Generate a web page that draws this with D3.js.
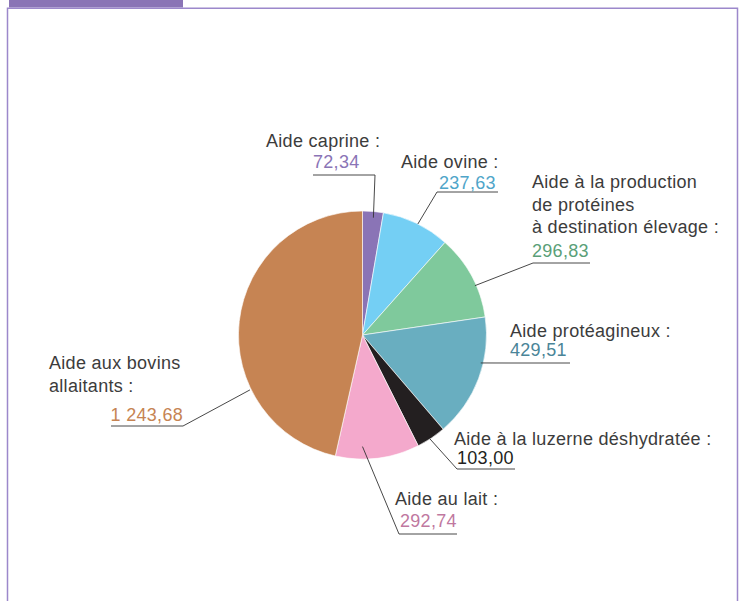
<!DOCTYPE html>
<html>
<head>
<meta charset="utf-8">
<script src="https://cdn.jsdelivr.net/npm/d3@7"></script>
<style>
  body { margin: 0; background: #fff; }
  svg text { font-family: "Liberation Sans", Arial, sans-serif; font-size: 18px; letter-spacing: 0.3px; }
</style>
</head>
<body>
<div id="chart"></div>
<script>
// data
const categories = ["Aide caprine", "Aide ovine", "Aide à la production de protéines à destination élevage",
  "Aide protéagineux", "Aide à la luzerne déshydratée", "Aide au lait", "Aide aux bovins allaitants"];
const values = [72.34, 237.63, 296.83, 429.51, 103.00, 292.74, 1243.68];
const labelLines = [
  ["Aide caprine :"],
  ["Aide ovine :"],
  ["Aide à la production", "de protéines", "à destination élevage :"],
  ["Aide protéagineux :"],
  ["Aide à la luzerne déshydratée :"],
  ["Aide au lait :"],
  ["Aide aux bovins", "allaitants :"]
];
const sliceColors = ["#8a74b6", "#74cff4", "#7fc99c", "#69aec0", "#231f20", "#f4a9cc", "#c68453"];
const valueColors = ["#8a74b6", "#4fa5c9", "#5a9f78", "#4a8598", "#231f20", "#c0789f", "#c68453"];

const width = 744, height = 601;
const cx = 362.5, cy = 335, radius = 124;

// label layout: text position, value position, underline, leader anchor on the pie
const layout = [
  { x: 266, y: 147, vx: 313, vy: 168, anchor: "start", u1: 313, u2: 375, uy: 175, join: "right", ang: 5.3, rf: 0.95 },
  { x: 401, y: 168, vx: 439, vy: 189, anchor: "start", u1: 437, u2: 498, uy: 192, join: "left", ang: 26.5, rf: 1.0 },
  { x: 532, y: 188, vx: 532, vy: 256.5, anchor: "start", u1: 533, u2: 590, uy: 263, join: "left", ang: 66.3, rf: 0.99 },
  { x: 510, y: 336.5, vx: 510, vy: 356, anchor: "start", u1: 510, u2: 570, uy: 363, join: "left", ang: 103.3, rf: 0.98 },
  { x: 454, y: 445, vx: 457, vy: 464, anchor: "start", u1: 457, u2: 515, uy: 469, join: "left", ang: 147, rf: 1.0 },
  { x: 395, y: 505, vx: 400, vy: 527, anchor: "start", u1: 399, u2: 457, uy: 534, join: "left", ang: 180, rf: 0.9 },
  { x: 49, y: 369, vx: 183, vy: 421, anchor: "end", u1: 111, u2: 183, uy: 426, join: "right", ang: 244, rf: 1.01 }
];

const fmt = v => {
  const s = v.toFixed(2).replace(".", ",");
  const [i, d] = s.split(",");
  return i.replace(/\B(?=(\d{3})+(?!\d))/g, " ") + "," + d;
};

const svg = d3.select("#chart").append("svg")
  .attr("width", width)
  .attr("height", height);

// frame with tab
svg.append("rect").attr("x", 9).attr("y", 0).attr("width", 174).attr("height", 7.5).attr("fill", "#8a74b6");
svg.append("path")
  .attr("d", "M7.5,601 V8.2 H737.5 V601")
  .attr("fill", "none")
  .attr("stroke", "#9c88cb")
  .attr("stroke-width", 1.5);

const data = categories.map((c, i) => ({ name: c, value: values[i], i }));

const pie = d3.pie().sort(null).value(d => d.value).startAngle(0).endAngle(2 * Math.PI);
const arc = d3.arc().innerRadius(0).outerRadius(radius);

const g = svg.append("g").attr("transform", `translate(${cx},${cy})`);
g.selectAll("path.slice")
  .data(pie(data))
  .enter()
  .append("path")
  .attr("class", "slice")
  .attr("d", arc)
  .attr("fill", d => sliceColors[d.data.i])
  .attr("stroke", "#fff")
  .attr("stroke-width", 0.6);

// leaders and labels
data.forEach((d, i) => {
  const L = layout[i];
  const a = L.ang * Math.PI / 180;
  const px = cx + radius * L.rf * Math.sin(a);
  const py = cy - radius * L.rf * Math.cos(a);
  const jx = L.join === "left" ? L.u1 : L.u2;

  svg.append("polyline")
    .attr("points", `${px},${py} ${jx},${L.uy} ${L.join === "left" ? L.u2 : L.u1},${L.uy}`)
    .attr("fill", "none")
    .attr("stroke", "#333")
    .attr("stroke-width", 0.9);

  const t = svg.append("text").attr("x", L.x).attr("y", L.y).attr("fill", "#3c3c3c");
  labelLines[i].forEach((line, k) => {
    t.append("tspan").attr("x", L.x).attr("y", L.y + k * 22.5).text(line);
  });

  svg.append("text")
    .attr("x", L.vx)
    .attr("y", L.vy)
    .attr("text-anchor", L.anchor)
    .attr("fill", valueColors[i])
    .text(fmt(d.value));
});
</script>
</body>
</html>
